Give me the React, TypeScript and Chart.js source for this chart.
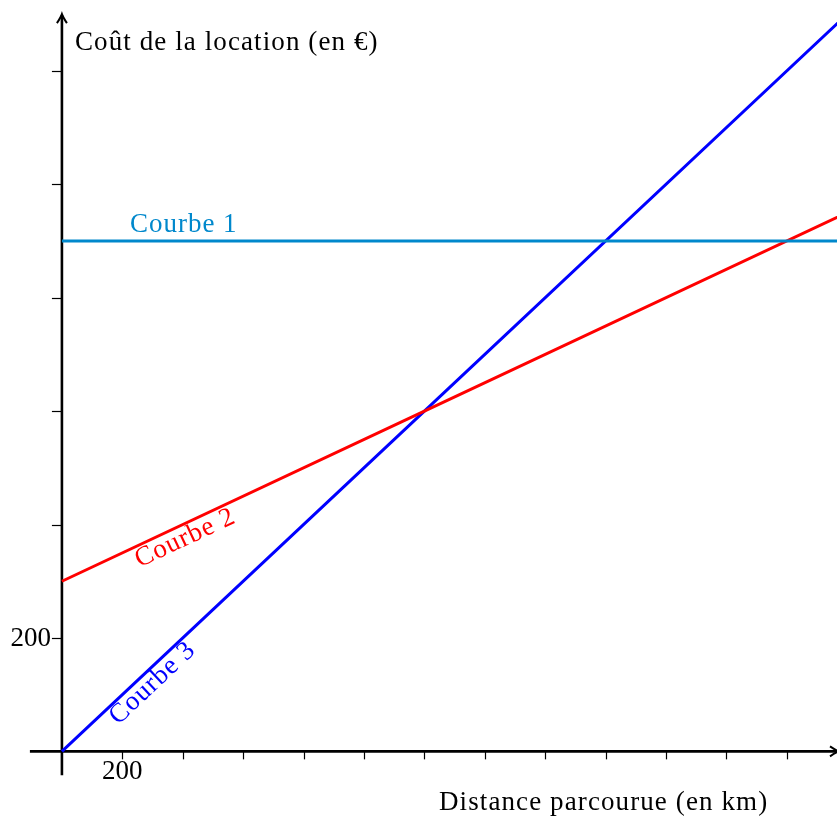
import { useEffect, useRef } from 'react';
import { Chart, registerables } from 'chart.js';

Chart.register(...registerables);

const FONT = '"Liberation Serif", "Times New Roman", serif';

// Distance parcourue (km) / Coût (€)
const curve1X = [0, 2600];
const curve1Y = [900, 900];
const curve2X = [0, 1200, 2600];
const curve2Y = [300, 600, 950];
const curve3X = [0, 1200, 2600];
const curve3Y = [0, 600, 1300];

const xTicks = [200, 400, 600, 800, 1000, 1200, 1400, 1600, 1800, 2000, 2200, 2400];
const xTickLabels = ['200', '', '', '', '', '', '', '', '', '', '', ''];
const yTicks = [200, 400, 600, 800, 1000, 1200];
const yTickLabels = ['200', '', '', '', '', ''];

const curveNames = ['Courbe 1', 'Courbe 2', 'Courbe 3'];
const curveColors = ['#0088cc', '#ff0000', '#0000ff'];

const yTitle = 'Coût de la location (en €)';
const xTitle = 'Distance parcourue (en km)';

const toPoints = (xs: number[], ys: number[]) => xs.map((x, i) => ({ x, y: ys[i] }));

export default function App() {
  const ref = useRef<HTMLCanvasElement>(null);

  useEffect(() => {
    if (!ref.current) return;

    const arrow = (ctx: CanvasRenderingContext2D, tx: number, ty: number, dir: 'up' | 'right') => {
      ctx.save();
      ctx.translate(tx, ty);
      if (dir === 'right') ctx.rotate(Math.PI / 2);
      ctx.beginPath();
      ctx.moveTo(-5, 9);
      ctx.quadraticCurveTo(-1, 3, 0, 0);
      ctx.quadraticCurveTo(1, 3, 5, 9);
      ctx.lineWidth = 2;
      ctx.stroke();
      ctx.restore();
    };

    const setText = (ctx: CanvasRenderingContext2D, spacing: string) => {
      ctx.font = `27px ${FONT}`;
      (ctx as any).letterSpacing = spacing;
    };

    const axesPlugin = {
      id: 'mathAxes',
      beforeDatasetsDraw(chart: any) {
        const ctx: CanvasRenderingContext2D = chart.ctx;
        const xs = chart.scales.x;
        const ys = chart.scales.y;
        const ox = xs.getPixelForValue(0);
        const oy = ys.getPixelForValue(0);
        ctx.save();
        ctx.strokeStyle = '#000';
        ctx.fillStyle = '#000';
        // x axis
        ctx.lineWidth = 2.6;
        ctx.beginPath();
        ctx.moveTo(xs.getPixelForValue(-106), oy);
        ctx.lineTo(chart.width + 1, oy);
        ctx.stroke();
        arrow(ctx, chart.width + 2, oy, 'right');
        // y axis
        ctx.lineWidth = 2.6;
        ctx.beginPath();
        ctx.moveTo(ox, ys.getPixelForValue(-42));
        ctx.lineTo(ox, ys.getPixelForValue(1300) + 1);
        ctx.stroke();
        arrow(ctx, ox, ys.getPixelForValue(1300), 'up');

        // ticks
        ctx.lineWidth = 1.2;
        xTicks.forEach((v) => {
          const px = Math.round(xs.getPixelForValue(v)) + 0.5;
          ctx.beginPath();
          ctx.moveTo(px, oy);
          ctx.lineTo(px, oy + 8);
          ctx.stroke();
        });
        yTicks.forEach((v) => {
          const py = Math.round(ys.getPixelForValue(v)) + 0.5;
          ctx.beginPath();
          ctx.moveTo(ox - 10, py);
          ctx.lineTo(ox, py);
          ctx.stroke();
        });

        setText(ctx, '0px');
        ctx.textAlign = 'center';
        ctx.textBaseline = 'alphabetic';
        xTicks.forEach((v, i) => {
          if (!xTickLabels[i]) return;
          ctx.fillText(xTickLabels[i], xs.getPixelForValue(v), oy + 28);
        });
        ctx.textAlign = 'right';
        ctx.textBaseline = 'middle';
        yTicks.forEach((v, i) => {
          if (!yTickLabels[i]) return;
          ctx.fillText(yTickLabels[i], ox - 11, ys.getPixelForValue(v) + 1);
        });

        // axis titles
        setText(ctx, '1.1px');
        ctx.textBaseline = 'alphabetic';
        ctx.textAlign = 'left';
        ctx.fillText(yTitle, ox + 13, 50);
        ctx.textAlign = 'right';
        ctx.fillText(xTitle, xs.getPixelForValue(2335) + 1, oy + 59);
        ctx.restore();
      },
      afterDatasetsDraw(chart: any) {
        const ctx: CanvasRenderingContext2D = chart.ctx;
        const xs = chart.scales.x;
        const ys = chart.scales.y;
        ctx.save();
        setText(ctx, '1px');
        // Courbe 1
        ctx.fillStyle = curveColors[0];
        ctx.textAlign = 'left';
        ctx.textBaseline = 'alphabetic';
        ctx.fillText(curveNames[0], xs.getPixelForValue(225), ys.getPixelForValue(curve1Y[0]) - 9);

        const rotated = (name: string, color: string, xsArr: number[], ysArr: number[], at: number, off: number) => {
          const x0 = xs.getPixelForValue(xsArr[0]);
          const y0 = ys.getPixelForValue(ysArr[0]);
          const x1 = xs.getPixelForValue(xsArr[xsArr.length - 1]);
          const y1 = ys.getPixelForValue(ysArr[ysArr.length - 1]);
          const ang = Math.atan2(y1 - y0, x1 - x0);
          const t = (at - xsArr[0]) / (xsArr[xsArr.length - 1] - xsArr[0]);
          const px = x0 + (x1 - x0) * t;
          const py = y0 + (y1 - y0) * t;
          ctx.save();
          ctx.translate(px, py);
          ctx.rotate(ang);
          ctx.fillStyle = color;
          ctx.textAlign = 'left';
          ctx.textBaseline = 'top';
          ctx.fillText(name, 0, off);
          ctx.restore();
        };
        rotated(curveNames[1], curveColors[1], curve2X, curve2Y, 228, 0);
        rotated(curveNames[2], curveColors[2], curve3X, curve3Y, 142, -1);
        ctx.restore();
      },
    };

    const chart = new Chart(ref.current, {
      type: 'scatter',
      data: {
        datasets: [
          { label: curveNames[0], data: toPoints(curve1X, curve1Y), borderColor: curveColors[0] },
          { label: curveNames[1], data: toPoints(curve2X, curve2Y), borderColor: curveColors[1] },
          { label: curveNames[2], data: toPoints(curve3X, curve3Y), borderColor: curveColors[2] },
        ].map((d) => ({
          ...d,
          showLine: true,
          borderWidth: 3,
          pointRadius: 0,
          pointHoverRadius: 0,
          fill: false,
          tension: 0,
        })),
      },
      options: {
        animation: false,
        responsive: true,
        maintainAspectRatio: false,
        layout: { padding: 0 },
        plugins: { legend: { display: false }, tooltip: { enabled: false } },
        events: [],
        scales: {
          x: { type: 'linear', min: -205, max: 2566, display: false },
          y: { type: 'linear', min: -114, max: 1325, display: false },
        },
      },
      plugins: [axesPlugin],
    });
    return () => chart.destroy();
  }, []);

  return (
    <div style={{ position: 'absolute', left: 0, top: 0, width: 837, height: 816, background: '#fff' }}>
      <canvas ref={ref} style={{ display: 'block' }} />
    </div>
  );
}
